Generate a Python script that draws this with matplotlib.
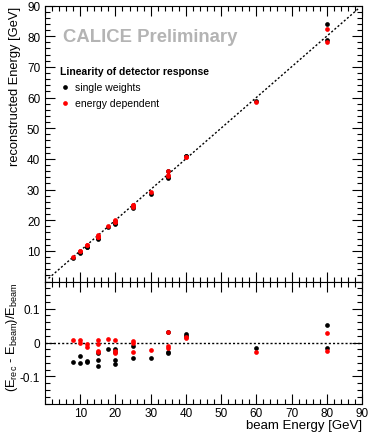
import numpy as np
import matplotlib
matplotlib.use("Agg")
import matplotlib.pyplot as plt
from matplotlib.ticker import MultipleLocator

plt.rcParams['font.family'] = ['Liberation Sans', 'DejaVu Sans']

# beam energies and relative residuals (E_rec - E_beam)/E_beam
e_single = [8, 10, 10, 12, 12, 15, 15, 15, 18, 20, 20, 20, 20, 25, 25, 30, 35, 35, 35, 40, 40, 60, 80, 80]
r_single = [-0.059, -0.041, -0.060, -0.054, -0.059, -0.031, -0.053, -0.068, -0.020,
            -0.020, -0.029, -0.053, -0.063, -0.010, -0.046, -0.046, 0.032, -0.028,
            -0.032, 0.024, 0.020, -0.017, 0.051, -0.015]

e_edep = [8, 10, 10, 12, 12, 15, 15, 15, 15, 18, 20, 20, 20, 25, 25, 25, 30, 35, 35, 35, 40, 40, 60, 80, 80]
r_edep = [0.006, 0.006, 0.000, -0.005, -0.014, 0.006, -0.004, -0.024, -0.029, 0.010,
          0.006, -0.025, -0.031, 0.004, -0.002, -0.027, -0.023, 0.032, -0.010, -0.016,
          0.016, 0.012, -0.027, 0.029, -0.025]

e_single = np.array(e_single, dtype=float)
e_edep = np.array(e_edep, dtype=float)
rec_single = e_single * (1 + np.array(r_single))
rec_edep = e_edep * (1 + np.array(r_edep))

W, H = 382, 435
fig = plt.figure(figsize=(W / 100, H / 100), dpi=100)
left, right = 45 / W, 362 / W
ax1 = fig.add_axes([left, 1 - 282.5 / H, right - left, 276 / H])
ax2 = fig.add_axes([left, 1 - 404.5 / H, right - left, 122 / H])

ms = 3.4
ax1.plot([1, 89], [1, 89], ls=(0, (1.5, 1.5)), color='black', lw=1)
ax1.plot(e_single, rec_single, 'o', color='black', ms=ms, mew=0)
ax1.plot(e_edep, rec_edep, 'o', color='red', ms=ms, mew=0)

ax2.axhline(0, ls=(0, (1.5, 1.5)), color='black', lw=1)
ax2.plot(e_single, r_single, 'o', color='black', ms=ms, mew=0)
ax2.plot(e_edep, r_edep, 'o', color='red', ms=ms, mew=0)

ax1.set_xlim(0, 90)
ax1.set_ylim(0, 90)
ax2.set_xlim(0, 90)
ax2.set_ylim(-0.18, 0.18)

for ax in (ax1, ax2):
    ax.tick_params(which='both', direction='in', top=True, right=True, labelsize=8.5)
    ax.tick_params(which='major', length=7, width=0.8)
    ax.tick_params(which='minor', length=3.5, width=0.8)
    ax.xaxis.set_major_locator(MultipleLocator(10))
    ax.xaxis.set_minor_locator(MultipleLocator(2))
    for s in ax.spines.values():
        s.set_linewidth(0.8)

ax1.yaxis.set_minor_locator(MultipleLocator(2))
ax1.set_yticks(range(10, 91, 10))
ax1.set_xticklabels([])

ax2.set_yticks([-0.1, 0, 0.1])
ax2.set_yticklabels(['-0.1', '0', '0.1'])
ax2.yaxis.set_minor_locator(MultipleLocator(0.02))
ax2.set_xticks(range(10, 91, 10))
ax2.tick_params(axis='x', pad=2.5)

ax1.set_ylabel('reconstructed Energy [GeV]', fontsize=9.3, loc='top', labelpad=4)
ax2.set_ylabel(r'(E$_{\mathregular{rec}}$ - E$_{\mathregular{beam}}$)/E$_{\mathregular{beam}}$',
               fontsize=9.3, loc='top', labelpad=0)
ax2.set_xlabel('beam Energy [GeV]', fontsize=9.5, loc='right', labelpad=0)

ax1.text(63 / W, 1 - 38 / H, 'CALICE Preliminary', transform=fig.transFigure,
         fontsize=13.3, fontweight='bold', color='#b4b4b4', va='center', ha='left')
ax1.text(60 / W, 1 - 72 / H, 'Linearity of detector response', transform=fig.transFigure,
         fontsize=7.5, fontweight='bold', va='center', ha='left')
fig.lines.append(plt.Line2D([65 / W], [1 - 88 / H], marker='o', color='black', ms=ms,
                            mew=0, transform=fig.transFigure))
fig.lines.append(plt.Line2D([65 / W], [1 - 104 / H], marker='o', color='red', ms=ms,
                            mew=0, transform=fig.transFigure))
ax1.text(75 / W, 1 - 88 / H, 'single weights', transform=fig.transFigure,
         fontsize=7.5, va='center', ha='left')
ax1.text(75 / W, 1 - 104 / H, 'energy dependent', transform=fig.transFigure,
         fontsize=7.5, va='center', ha='left')

fig.savefig('out.png', dpi=100)
